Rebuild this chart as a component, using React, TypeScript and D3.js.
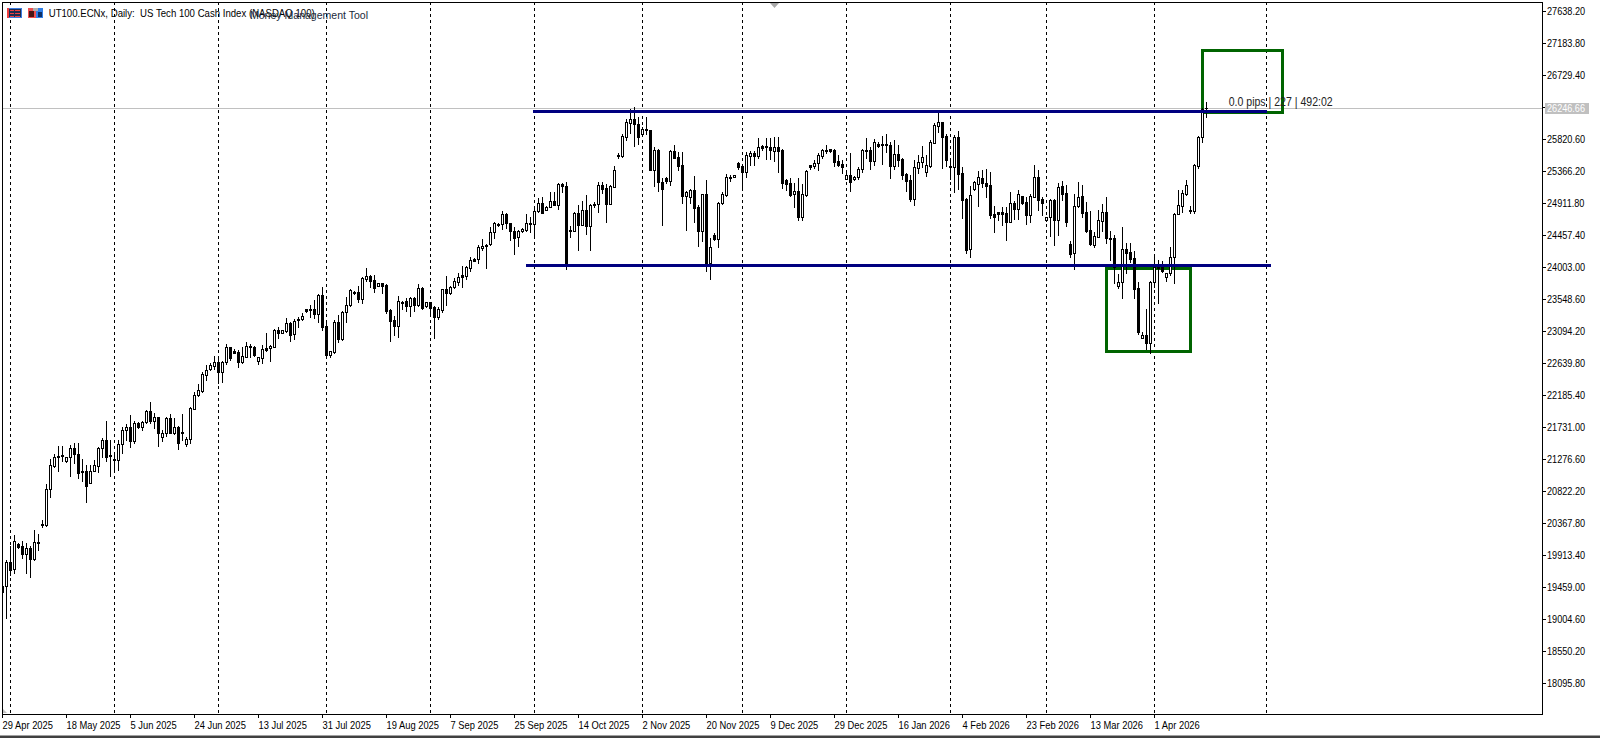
import { useEffect, useRef } from "react";
import * as d3 from "d3";

// daily bars, [open, high, low, close]
const ohlc: number[][] = [
  [19466,19494,19324,19381],[19466,19835,19011,19807],[19807,20034,19622,19693],[19707,20190,19650,20105],[20062,20076,20005,20020],
  [20034,20105,19863,19920],[19920,20076,19650,20005],[20005,20034,19594,19849],[19849,20261,19835,20091],[20091,20204,19977,20076],
  [20346,20403,20304,20332],[20332,20914,20318,20843],[20843,21269,20730,21184],[21170,21340,21156,21298],[21312,21454,21099,21298],
  [21326,21454,21241,21312],[21241,21298,21227,21298],[21298,21468,21028,21425],[21425,21496,21212,21340],[21340,21496,20999,21070],
  [21099,21269,20957,21085],[21099,21184,20659,20886],[20928,21184,20928,21099],[21099,21255,21099,21184],[21170,21439,21085,21425],
  [21425,21567,21298,21539],[21539,21809,21241,21298],[21326,21539,21028,21312],[21269,21354,21113,21255],[21255,21539,21113,21482],
  [21482,21723,21354,21681],[21681,21766,21539,21723],[21723,21894,21440,21525],[21525,21809,21496,21780],[21780,21790,21709,21723],
  [21723,21809,21681,21795],[21795,21965,21780,21951],[21951,22079,21780,21809],[21809,21922,21709,21865],[21865,21865,21454,21638],
  [21581,21681,21525,21638],[21638,21865,21596,21851],[21851,21908,21638,21638],[21638,21851,21624,21723],[21723,21738,21411,21496],
  [21653,21908,21539,21638],[21482,21582,21454,21553],[21553,22008,21496,21993],[21979,22221,21979,22178],[22178,22334,22164,22249],
  [22235,22505,22221,22476],[22462,22604,22391,22533],[22547,22632,22533,22604],[22590,22732,22547,22647],[22647,22718,22348,22505],
  [22505,22661,22362,22647],[22647,22902,22618,22860],[22860,22860,22675,22703],[22803,22831,22774,22774],[22789,22817,22575,22647],
  [22647,22860,22632,22732],[22718,22931,22718,22874],[22874,22902,22718,22860],[22860,22874,22732,22746],[22661,22718,22618,22718],
  [22703,22888,22632,22831],[22845,23059,22803,22817],[22845,22888,22661,22874],[22860,23115,22860,23101],[23101,23144,22988,23059],
  [23059,23101,23059,23101],[23087,23271,23073,23200],[23200,23215,22945,23030],[23044,23257,22973,23229],[23257,23285,23144,23243],
  [23257,23342,23243,23300],[23399,23399,23356,23371],[23399,23456,23285,23385],[23399,23527,23271,23328],[23328,23612,23215,23598],
  [23598,23712,23101,23144],[23158,23243,22703,22746],[22746,22803,22718,22803],[22789,23243,22774,23215],[23215,23314,22931,22973],
  [22973,23371,22959,23356],[23356,23570,23215,23456],[23456,23683,23442,23669],[23641,23655,23612,23626],[23641,23726,23499,23541],
  [23541,23854,23485,23839],[23825,23981,23797,23868],[23868,23882,23712,23797],[23811,23882,23641,23698],[23726,23768,23726,23768],
  [23768,23768,23626,23726],[23740,23754,23342,23371],[23385,23399,22945,23229],[23243,23300,23030,23158],[23158,23584,23002,23513],
  [23499,23513,23399,23485],[23513,23556,23371,23442],[23442,23570,23300,23556],[23556,23570,23371,23456],[23456,23754,23442,23698],
  [23698,23712,23399,23414],[23442,23499,23428,23499],[23499,23499,23342,23414],[23428,23442,22988,23285],[23285,23428,23257,23399],
  [23385,23683,23356,23683],[23683,23868,23456,23626],[23626,23726,23612,23712],[23712,23839,23698,23797],[23783,23910,23740,23854],
  [23882,24010,23712,23854],[23868,24010,23825,23996],[23981,24138,23939,24095],[24110,24124,24081,24081],[24110,24308,24053,24280],
  [24265,24393,24237,24294],[24308,24322,23981,24294],[24322,24564,24308,24493],[24493,24635,24408,24620],[24606,24620,24578,24592],
  [24606,24791,24535,24748],[24748,24762,24549,24620],[24620,24620,24379,24507],[24507,24564,24180,24408],[24422,24521,24294,24507],
  [24507,24549,24493,24535],[24521,24748,24507,24620],[24620,24706,24493,24606],[24606,24819,24408,24791],[24791,24975,24776,24904],
  [24904,24989,24762,24762],[24805,24862,24805,24848],[24848,25060,24848,24933],[24933,25060,24876,24876],[24876,25188,24819,25174],
  [25174,25188,25060,25146],[25146,25203,23967,24038],[24521,24578,24422,24507],[24507,24776,24507,24762],[24762,24876,24237,24592],
  [24592,24933,24592,24805],[24805,25018,24465,24578],[24578,24890,24237,24876],[24890,24919,24848,24876],[24890,25203,24776,25160],
  [25160,25203,25046,25103],[25117,25174,24635,24890],[24890,25160,24890,25146],[25132,25430,25132,25373],[25586,25615,25544,25572],
  [25572,25884,25558,25856],[25841,26097,25799,26054],[26040,26239,25898,26097],[26097,26267,25714,26026],[26026,26126,25742,25841],
  [25884,25983,25884,25955],[25955,26126,25884,25941],[25941,25941,25373,25373],[25373,25700,25146,25657],[25657,25672,25075,25203],
  [25203,25260,24592,25103],[25260,25274,25188,25217],[25217,25657,25160,25643],[25643,25728,25544,25544],[25558,25629,25373,25430],
  [25444,25629,24904,25004],[25004,25075,24521,25060],[24989,25103,24904,25089],[25089,25288,24635,24833],[24848,24876,24294,24507],
  [24507,25032,24365,25032],[25032,25231,23939,24052],[24052,24408,23825,24280],[24450,24479,24379,24393],[24393,24919,24280,24904],
  [24904,25060,24890,25032],[25018,25316,25004,25274],[25274,25302,25217,25260],[25274,25302,25274,25302],[25472,25487,25387,25416],
  [25430,25444,25132,25345],[25345,25629,25274,25586],[25572,25643,25444,25615],[25615,25643,25444,25572],[25572,25827,25544,25700],
  [25714,25728,25657,25686],[25714,25827,25529,25700],[25700,25827,25529,25657],[25643,25841,25501,25700],[25700,25841,25345,25643],
  [25657,25672,25117,25188],[25231,25245,25089,25174],[25188,25260,25004,25018],[25032,25188,24848,25075],[25075,25260,24663,24706],
  [24706,25174,24663,25032],[25018,25373,25004,25359],[25444,25444,25387,25416],[25430,25515,25401,25472],[25472,25615,25373,25586],
  [25572,25672,25544,25657],[25657,25728,25615,25643],[25672,25672,25629,25643],[25657,25672,25430,25487],[25501,25586,25430,25444],
  [25458,25515,25330,25416],[25245,25345,25245,25302],[25302,25615,25075,25203],[25245,25288,25231,25274],[25274,25416,25245,25387],
  [25387,25672,25345,25657],[25657,25827,25544,25643],[25657,25700,25387,25501],[25501,25813,25444,25771],[25742,25771,25700,25714],
  [25742,25856,25458,25728],[25742,25884,25629,25728],[25728,25771,25260,25430],[25430,25799,25387,25600],[25600,25728,25430,25515],
  [25529,25544,25245,25302],[25316,25330,25075,25217],[25231,25302,24933,24961],[24961,25515,24876,25416],[25401,25586,25330,25487],
  [25487,25714,25416,25558],[25345,25586,25288,25444],[25430,25799,25416,25771],[25757,26040,25757,26012],[25998,26182,25912,26054],
  [26054,26054,25401,25841],[25856,25884,25430,25515],[25430,25515,25245,25416],[25416,25870,25060,25841],[25841,25927,25103,25316],
  [25330,25416,24691,24947],[24961,24975,24194,24237],[24251,25146,24138,25018],[25103,25217,25089,25203],[25174,25359,24862,25274],
  [25260,25373,25132,25188],[25188,25387,24989,25146],[25160,25345,24691,24734],[24748,24862,24493,24706],[24776,24776,24663,24748],
  [24776,24848,24592,24748],[24762,24848,24379,24635],[24635,25060,24635,24904],[24904,24933,24677,24819],[24819,25089,24677,25032],
  [25004,25004,24890,24904],[24919,24989,24606,24734],[24734,25032,24635,25004],[24989,25444,24989,25274],[25274,25373,24805,24947],
  [24961,24989,24734,24904],[24663,24706,24649,24706],[24706,24961,24436,24947],[24947,24961,24308,24663],[24663,25188,24450,25132],
  [25146,25217,24947,25032],[25046,25160,24578,24635],[24322,24365,24138,24180],[24194,25032,23967,24862],[24862,25203,24848,24989],
  [25004,25160,24706,24762],[24776,24919,24493,24507],[24521,24791,24308,24322],[24308,24493,24280,24436],[24422,24805,24422,24663],
  [24649,24890,24507,24776],[24776,24989,24337,24408],[24408,24507,24095,24394],[24408,24450,23769,23996],[23726,23896,23698,23783],
  [23783,24564,23556,24251],[24251,24337,23911,24194],[24209,24337,24067,24110],[24124,24223,23556,23683],[23698,23783,23044,23073],
  [22988,23073,22988,23030],[23030,23399,22831,22916],[22916,23797,22774,23783],[23783,24180,23712,23996],[23996,24095,23485,23981],
  [23996,24081,23925,23939],[23854,23911,23797,23911],[23911,24280,23882,24138],[24138,24762,23769,24748],[24748,25089,24748,24876],
  [24862,25089,24776,25046],[25032,25231,25018,25160],[24805,24862,24762,24791],[24791,25458,24762,25444],[25430,25856,25401,25841],
  [25841,26254,25771,26239],[26254,26339,26126,26247],
];

const priceTicks = [
  27638.2, 27183.8, 26729.4, 26275, 25820.6, 25366.2, 24911.8, 24457.4, 24003, 23548.6, 23094.2,
  22639.8, 22185.4, 21731, 21276.6, 20822.2, 20367.8, 19913.4, 19459, 19004.6, 18550.2, 18095.8,
];
const dateLabels = [
  "29 Apr 2025", "18 May 2025", "5 Jun 2025", "24 Jun 2025", "13 Jul 2025", "31 Jul 2025", "19 Aug 2025",
  "7 Sep 2025", "25 Sep 2025", "14 Oct 2025", "2 Nov 2025", "20 Nov 2025", "9 Dec 2025", "29 Dec 2025",
  "16 Jan 2026", "4 Feb 2026", "23 Feb 2026", "13 Mar 2026", "1 Apr 2026",
];
const dateBars = dateLabels.map((_, i) => i * 16);
const periodBars = [2, 28, 54, 81, 107, 133, 160, 185, 211, 237, 261, 288, 316];

const currentPrice = 26246.66;
const levelPrices = [26206, 24020];
const levelFrom = [132.75, 131];
const levelTo = [316.2, 317.25];
const boxFrom = [300.1, 276.2];
const boxTo = [320.2, 297.1];
const boxHigh = [27073, 23981];
const boxLow = [26187, 22799];

const FONT = "'Liberation Sans', sans-serif";
const WIDTH = 1600;
const HEIGHT = 738;
const PLOT = { left: 2, top: 2, right: 1542, bottom: 714 };

// the terminal's font runs narrower than anything installed, so squeeze the glyphs
function squeeze(sel: any, factor: number) {
  sel.each(function (this: SVGTextElement) {
    this.setAttribute("textLength", String(this.getComputedTextLength() * factor));
    this.setAttribute("lengthAdjust", "spacingAndGlyphs");
  });
}

export default function App() {
  const svgRef = useRef<SVGSVGElement>(null);

  useEffect(() => {
    if (!svgRef.current) return;
    const svg = d3.select(svgRef.current);
    svg.selectAll("*").remove();

    const x = d3.scaleLinear().domain([0, 1]).range([PLOT.left, PLOT.left + 4]);
    const y = d3.scaleLinear().domain([24003, 27638.2]).range([266.5, 10.5]);

    svg.append("rect").attr("width", WIDTH).attr("height", HEIGHT).attr("fill", "#fff");

    const defs = svg.append("defs");
    defs.append("clipPath").attr("id", "plot")
      .append("rect")
      .attr("x", PLOT.left)
      .attr("y", PLOT.top)
      .attr("width", PLOT.right - PLOT.left)
      .attr("height", PLOT.bottom - PLOT.top);

    const g = svg.append("g").attr("clip-path", "url(#plot)").attr("shape-rendering", "crispEdges");

    // period separators
    periodBars.forEach((b) => {
      g.append("line")
        .attr("x1", x(b) + 0.5)
        .attr("x2", x(b) + 0.5)
        .attr("y1", PLOT.top)
        .attr("y2", PLOT.bottom)
        .attr("stroke", "#000")
        .attr("stroke-dasharray", "3 3");
    });

    g.append("line")
      .attr("x1", PLOT.left)
      .attr("x2", PLOT.right)
      .attr("y1", Math.floor(y(currentPrice)) + 0.5)
      .attr("y2", Math.floor(y(currentPrice)) + 0.5)
      .attr("stroke", "#c0c0c0");

    boxFrom.forEach((from, i) => {
      g.append("rect")
        .attr("x", x(from))
        .attr("y", y(boxHigh[i]))
        .attr("width", x(boxTo[i]) - x(from))
        .attr("height", y(boxLow[i]) - y(boxHigh[i]))
        .attr("fill", "none")
        .attr("stroke", "#006400")
        .attr("stroke-width", 3);
    });

    ohlc.forEach(([open, high, low, close], i) => {
      const col = x(i);
      const top = Math.round(y(Math.max(open, close)));
      const bot = Math.round(y(Math.min(open, close)));
      g.append("line")
        .attr("x1", col + 0.5)
        .attr("x2", col + 0.5)
        .attr("y1", Math.round(y(high)))
        .attr("y2", Math.round(y(low)) + 1)
        .attr("stroke", "#000");
      if (close > open && bot > top) {
        g.append("rect")
          .attr("x", col - 0.5)
          .attr("y", top + 0.5)
          .attr("width", 2)
          .attr("height", bot - top)
          .attr("fill", "#fff")
          .attr("stroke", "#000");
      } else {
        g.append("rect")
          .attr("x", col - 1)
          .attr("y", top)
          .attr("width", 3)
          .attr("height", Math.max(1, bot - top + 1))
          .attr("fill", "#000");
      }
    });

    levelPrices.forEach((p, i) => {
      g.append("line")
        .attr("x1", x(levelFrom[i]))
        .attr("x2", x(levelTo[i]))
        .attr("y1", y(p))
        .attr("y2", y(p))
        .attr("stroke", "#000080")
        .attr("stroke-width", 3);
    });

    // frame
    svg.append("rect")
      .attr("x", PLOT.left + 0.5)
      .attr("y", PLOT.top + 0.5)
      .attr("width", PLOT.right - PLOT.left)
      .attr("height", PLOT.bottom - PLOT.top)
      .attr("fill", "none")
      .attr("stroke", "#000")
      .attr("shape-rendering", "crispEdges");

    // scroll markers
    svg.append("path").attr("d", "M770,3 L779,3 L774.5,8 Z").attr("fill", "#a8a8a8");
    svg.append("path").attr("d", "M3,709 L7,713 L3,713 Z").attr("fill", "#c0c0c0");

    // price axis
    const yAxis = d3
      .axisRight(y)
      .tickValues(priceTicks)
      .tickSize(4)
      .tickPadding(1)
      .tickFormat((d) => (d === 26275 ? "" : d3.format(".2f")(d as number)));
    const yG = svg.append("g").attr("transform", `translate(${PLOT.right},0)`).call(yAxis);
    yG.select(".domain").remove();
    yG.selectAll("line").attr("stroke", "#000").attr("shape-rendering", "crispEdges");
    yG.selectAll("text").attr("font-family", FONT).attr("font-size", 11).attr("fill", "#000");
    squeeze(yG.selectAll("text").filter((d) => d !== 26275), 0.83);

    // time axis
    const xAxis = d3
      .axisBottom(x)
      .tickValues(dateBars)
      .tickSize(4)
      .tickPadding(3)
      .tickFormat((_, i) => dateLabels[i]);
    const xG = svg.append("g").attr("transform", `translate(0,${PLOT.bottom})`).call(xAxis);
    xG.select(".domain").remove();
    xG.selectAll("line").attr("stroke", "#000").attr("shape-rendering", "crispEdges");
    xG.selectAll("text")
      .attr("font-family", FONT)
      .attr("font-size", 11)
      .attr("fill", "#000")
      .attr("text-anchor", "start");
    squeeze(xG.selectAll("text"), 0.85);

    // current price tag
    svg.append("rect").attr("x", 1545).attr("y", 103).attr("width", 44).attr("height", 11).attr("fill", "#c0c0c0");
    svg.append("text")
      .attr("x", 1547)
      .attr("y", 112)
      .attr("font-family", FONT)
      .attr("font-size", 11)
      .attr("fill", "#fff")
      .attr("textLength", 38)
      .attr("lengthAdjust", "spacingAndGlyphs")
      .text(d3.format(".2f")(currentPrice));

    // header icons
    const icons = svg.append("g").attr("shape-rendering", "crispEdges");
    icons.append("rect").attr("x", 7.5).attr("y", 8.5).attr("width", 14).attr("height", 9).attr("fill", "#1d2b4f").attr("stroke", "#3a7be0");
    icons.append("rect").attr("x", 7).attr("y", 8).attr("width", 2).attr("height", 10).attr("fill", "#f04040");
    [10, 13, 16].forEach((row) => {
      icons.append("rect").attr("x", 10).attr("y", row).attr("width", 4).attr("height", 1).attr("fill", "#f04040");
      icons.append("rect").attr("x", 15).attr("y", row).attr("width", 5).attr("height", 1).attr("fill", "#f04040");
    });
    icons.append("rect").attr("x", 28).attr("y", 8).attr("width", 8).attr("height", 10).attr("fill", "#f05050");
    icons.append("rect").attr("x", 29).attr("y", 11).attr("width", 5).attr("height", 6).attr("fill", "#4a1414");
    icons.append("rect").attr("x", 36).attr("y", 8).attr("width", 7).attr("height", 10).attr("fill", "#2f7fe8");
    icons.append("rect").attr("x", 38).attr("y", 12).attr("width", 4).attr("height", 5).attr("fill", "#0c2f66");
    icons.append("rect").attr("x", 33).attr("y", 8).attr("width", 5).attr("height", 3).attr("fill", "#b0b0b0");

    svg.append("text")
      .attr("x", 48.7)
      .attr("y", 17)
      .attr("font-family", FONT)
      .attr("font-size", 11)
      .attr("fill", "#000")
      .attr("textLength", 266)
      .attr("lengthAdjust", "spacingAndGlyphs")
      .style("white-space", "pre")
      .text("UT100.ECNx, Daily:  US Tech 100 Cash Index (NASDAQ 100)");
    svg.append("text")
      .attr("x", 250)
      .attr("y", 19)
      .attr("font-family", FONT)
      .attr("font-size", 11)
      .attr("fill", "#1a2a3a")
      .attr("textLength", 118)
      .attr("lengthAdjust", "spacingAndGlyphs")
      .text("Money Management Tool");
    svg.append("text")
      .attr("x", 1228.7)
      .attr("y", 106)
      .attr("font-family", FONT)
      .attr("font-size", 12)
      .attr("fill", "#222")
      .attr("textLength", 104)
      .attr("lengthAdjust", "spacingAndGlyphs")
      .text("0.0 pips | 227 | 492:02");

    // window bottom edge
    svg.append("rect").attr("y", 735).attr("width", WIDTH).attr("height", 1).attr("fill", "#a0a0a0").attr("shape-rendering", "crispEdges");
    svg.append("rect").attr("y", 736).attr("width", WIDTH).attr("height", 2).attr("fill", "#404040").attr("shape-rendering", "crispEdges");
  }, []);

  return (
    <svg
      ref={svgRef}
      width={WIDTH}
      height={HEIGHT}
      viewBox={`0 0 ${WIDTH} ${HEIGHT}`}
      style={{ position: "absolute", left: 0, top: 0, display: "block" }}
    />
  );
}
